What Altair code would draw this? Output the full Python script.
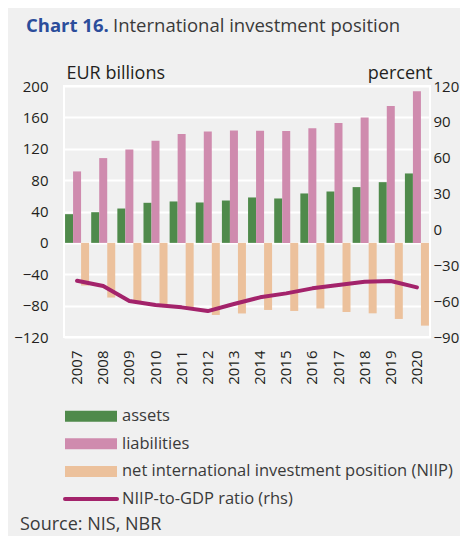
import altair as alt
import pandas as pd

years = [str(y) for y in range(2007, 2021)]
assets = [36.6, 39.1, 43.8, 51.1, 52.8, 51.5, 54.0, 57.9, 56.6, 63.0, 65.5, 71.1, 77.4, 88.5]
liabilities = [91.1, 108.1, 119.1, 130.2, 138.7, 142.1, 143.4, 143.0, 142.6, 146.0, 152.8, 160.0, 174.5, 193.2]
niip = [-54.4, -69.7, -75.3, -80.0, -82.5, -91.9, -90.0, -85.5, -86.8, -83.8, -88.1, -89.8, -97.0, -105.5]
ratio = [-42.9, -47.4, -59.9, -63.3, -65.2, -68.3, -62.4, -56.8, -53.5, -49.3, -46.5, -43.7, -43.2, -48.5]

series_names = ["assets", "liabilities", "net international investment position (NIIP)", "NIIP-to-GDP ratio (rhs)"]
series_colors = ["#4f8a4b", "#cf8bae", "#ecc19c", "#a3236b"]

FONT = "Open Sans"
TEXT = "#231f20"

bars_df = pd.DataFrame({
    "year": years * 3,
    "series": [series_names[0]] * 14 + [series_names[1]] * 14 + [series_names[2]] * 14,
    "order": [0] * 14 + [1] * 14 + [2] * 14,
    "value": assets + liabilities + niip,
})
line_df = pd.DataFrame({"year": years, "ratio": ratio, "series": [series_names[3]] * 14})
legend_df = pd.DataFrame({"series": series_names, "row": [0, 1, 2, 3]})

color_scale = alt.Scale(domain=series_names, range=series_colors)
color_enc = alt.Color("series:N", scale=color_scale, legend=None)

x_enc = alt.X(
    "year:N",
    sort=years,
    scale=alt.Scale(paddingInner=0.08, paddingOuter=0.04),
    axis=alt.Axis(
        title=None, labelAngle=-90, labelFont=FONT, labelFontSize=15, labelColor=TEXT,
        labelPadding=13, ticks=False, domain=False, grid=False,
        labelBaseline="middle", labelAlign="right",
    ),
)

bars = alt.Chart(bars_df).mark_bar(size=8).encode(
    x=x_enc,
    xOffset=alt.XOffset("order:O", scale=alt.Scale(paddingInner=0, paddingOuter=0)),
    y=alt.Y(
        "value:Q",
        scale=alt.Scale(domain=[-120, 200], nice=False, zero=False),
        axis=alt.Axis(
            title="EUR billions", values=list(range(-120, 201, 40)), orient="left",
            labelFont=FONT, labelFontSize=15, labelColor=TEXT, labelPadding=16,
            ticks=False, domain=False, grid=True, gridColor="white", gridWidth=2,
            titleAngle=0, titleX=2, titleY=-8, titleAlign="left", titleBaseline="alphabetic",
            titleFont=FONT, titleFontSize=18, titleFontWeight="normal", titleColor=TEXT,
        ),
    ),
    color=color_enc,
)

line = alt.Chart(line_df).mark_line(strokeWidth=4, strokeCap="round", strokeJoin="round").encode(
    x=alt.X("year:N", sort=years),
    y=alt.Y(
        "ratio:Q",
        scale=alt.Scale(domain=[-90, 120], nice=False, zero=False),
        axis=alt.Axis(
            title="percent", values=list(range(-90, 121, 30)), orient="right",
            labelFont=FONT, labelFontSize=15, labelColor=TEXT, labelPadding=3,
            ticks=False, domain=False, grid=False,
            titleAngle=0, titleX=2, titleY=-8, titleAlign="right", titleBaseline="alphabetic",
            titleFont=FONT, titleFontSize=18, titleFontWeight="normal", titleColor=TEXT,
        ),
    ),
    color=color_enc,
)

# legend built from marks
leg_y = alt.Y("row:Q", scale=alt.Scale(domain=[0, 3], range=[330.3, 413]), axis=None)

leg_rects = alt.Chart(legend_df).transform_filter("datum.row < 3").mark_rule(
    strokeWidth=11, strokeCap="butt"
).encode(x=alt.value(1), x2=alt.value(53), y=leg_y, color=color_enc)

leg_line = alt.Chart(legend_df).transform_filter("datum.row == 3").mark_rule(
    strokeWidth=4, strokeCap="round"
).encode(x=alt.value(1), x2=alt.value(53), y=leg_y, color=color_enc)

leg_text = alt.Chart(legend_df).mark_text(
    font=FONT, fontSize=16.5, color="#3a3a3a", align="left", baseline="middle"
).encode(x=alt.value(58), y=leg_y, text="series:N")

title_df = pd.DataFrame({"a": ["Chart 16."], "b": ["International investment position"], "s": ["Source: NIS, NBR"]})

title_a = alt.Chart(title_df).mark_text(
    font=FONT, fontSize=18.5, fontWeight="bold", color="#2b4d9b", align="left", baseline="alphabetic"
).encode(text="a:N", x=alt.value(-38), y=alt.value(-54))

title_b = alt.Chart(title_df).mark_text(
    font=FONT, fontSize=18.5, color="#3a3a3a", align="left", baseline="alphabetic"
).encode(text="b:N", x=alt.value(49), y=alt.value(-54))

source = alt.Chart(title_df).mark_text(
    font=FONT, fontSize=18, color="#3a3a3a", align="left", baseline="alphabetic"
).encode(text="s:N", x=alt.value(-44), y=alt.value(444))

chart = alt.layer(bars, line, leg_rects, leg_line, leg_text, title_a, title_b, source).resolve_scale(
    y="independent"
).properties(
    width=366,
    height=251,
    background="#f0f0f0",
    padding={"left": 56, "top": 78, "right": 30, "bottom": 199},
    autosize=alt.AutoSizeParams(type="none"),
).configure_view(
    stroke="white", strokeWidth=2, fill="#f0f0f0"
)

chart.save("out.html", embed_options={"renderer": "svg", "actions": False})
